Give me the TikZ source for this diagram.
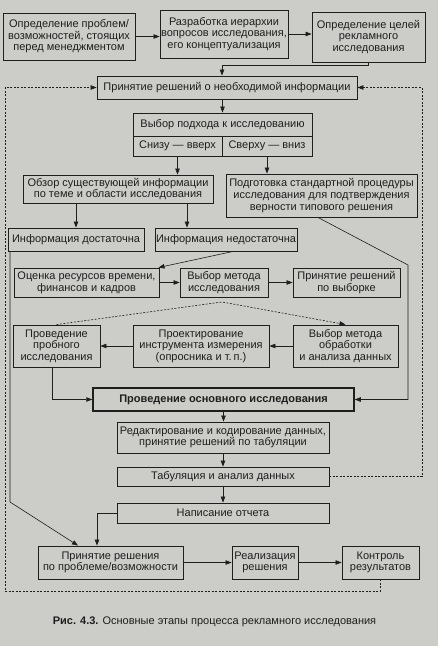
\documentclass[tikz,border=0pt]{standalone}
\usepackage{fontspec}
\setmainfont{Liberation Sans}
\usetikzlibrary{arrows.meta}
\definecolor{bg}{RGB}{204,204,200}
\definecolor{ink}{RGB}{30,30,30}
\newcommand\bx[7][]{\node[box,minimum width={#5pt-#3pt},minimum height={#6pt-#4pt},#1] (#2) at ({(#3+#5)/2},{(#4+#6)/2}) {#7};}
\begin{document}
\begin{tikzpicture}[x=1pt,y=-1pt,
  font=\fontsize{11}{11.6}\selectfont,
  box/.style={draw=ink,line width=0.9pt,fill=bg,text=ink,align=center,inner sep=1pt},
  conn/.style={draw=ink,line width=0.6pt},
  arr/.style={conn,-{Triangle[length=6pt,width=4.5pt]}},
  dsh/.style={arr,dash pattern=on 2pt off 1.5pt}]
\useasboundingbox[fill=bg] (0,0) rectangle (438,646);
\bx{b1}{3}{13}{135}{60}{Определение проблем/\\возможностей, стоящих\\перед менеджментом}
\bx{b2}{160}{10}{288}{58}{Разработка иерархии\\вопросов исследования,\\его концептуализация}
\bx{b3}{312}{12}{425}{62}{Определение целей\\рекламного\\исследования}
\bx{pr}{97}{76}{357}{99}{Принятие решений о необходимой информации}
\bx{vp}{133}{113}{312}{136}{Выбор подхода к исследованию}
\bx{sv}{133}{136}{222}{156}{Снизу — вверх}
\bx{sn}{222}{136}{312}{156}{Сверху — вниз}
\bx{obz}{23}{175}{213}{203}{Обзор существующей информации\\по теме и области исследования}
\bx{pod}{226}{174}{417}{217}{Подготовка стандартной процедуры\\исследования для подтверждения\\верности типового решения}
\bx{id}{8}{228}{144}{251}{Информация достаточна}
\bx{ind}{155}{228}{297}{251}{Информация недостаточна}
\bx{oc}{14}{268}{159}{297}{Оценка ресурсов времени,\\финансов и кадров}
\bx{vm}{180}{268}{268}{297}{Выбор метода\\исследования}
\bx{pv}{293}{268}{400}{297}{Принятие решений\\по выборке}
\bx{pp}{13}{325}{100}{367}{Проведение\\пробного\\исследования}
\bx{pi}{133}{325}{269}{367}{Проектирование\\инструмента измерения\\(опросника и т.\,п.)}
\bx{vo}{293}{325}{398}{367}{Выбор метода\\обработки\\и анализа данных}
\bx[line width=1.5pt,font=\fontsize{11}{11.6}\selectfont\bfseries]{po}{93}{388}{354}{411}{Проведение основного исследования}
\bx{red}{117}{422}{329}{453}{Редактирование и кодирование данных,\\принятие решений по табуляции}
\bx{tab}{117}{467}{329}{486}{Табуляция и анализ данных}
\bx{nap}{117}{503}{329}{523}{Написание отчета}
\bx{prr}{38}{546}{183}{579}{Принятие решения\\по проблеме/возможности}
\bx{rea}{232}{546}{298}{579}{Реализация\\решения}
\bx{kon}{342}{546}{419}{579}{Контроль\\результатов}
\node[text=ink] (cap) at (214.5,622) {\textbf{Рис. 4.3.} Основные этапы процесса рекламного исследования};
% coordinates
\coordinate (c1) at (222,65);
\coordinate (x187) at (187,0);
\coordinate (x233) at (233,0);
\coordinate (pk) at (222,302);
\coordinate (x52) at (52,0);
\coordinate (x318) at (318,0);
\coordinate (rb) at (408,265);
\coordinate (x97) at (97,0);
\coordinate (x10) at (10,0);
\coordinate (lb) at (10,502);
\coordinate (x78) at (78,0);
\coordinate (ld) at (5,591);
\coordinate (rd) at (422,476.5);
% connectors
\draw[arr] (b1.east) -- (b2.west |- b1.east);
\draw[arr] (b2.east) -- (b3.west |- b2.east);
\draw[arr] (b3.south) |- (c1) -- (c1 |- pr.north);
\draw[arr] (pr.south -| vp.north) -- (vp.north);
\draw[arr] (sv.south) -- (sv.south |- obz.north);
\draw[arr] (sn.south) -- (sn.south |- pod.north);
\draw[arr] (obz.south -| id.north) -- (id.north);
\draw[arr] (obz.south -| x187) -- (ind.north -| x187);
\draw[arr] (ind.south -| x233) -- ([xshift=-1pt]oc.north east);
\draw[arr] (oc.east) -- (vm.west);
\draw[arr] (vm.east) -- (pv.west);
\draw[dsh] (pp.north) -- (pk) -- (vo.north);
\draw[arr] (vo.west) -- (pi.east);
\draw[arr] (pi.west) -- (pp.east);
\draw[arr] (pp.south -| x52) |- (po.west);
\draw[arr] (pod.south -| x318) -- (rb) |- (po.east);
\draw[arr] (po.south) -- (po.south |- red.north);
\draw[arr] (red.south) -- (tab.north);
\draw[arr] (tab.south) -- (nap.north);
\draw[arr] (nap.west) -| (x97 |- prr.north);
\draw[arr] (id.south -| x10) -- (lb) -- (x78 |- prr.north);
\draw[arr] (prr.east) -- (rea.west);
\draw[arr] (rea.east) -- (kon.west);
\draw[dsh] (kon.south) |- (ld) |- (pr.west);
\draw[dsh] (tab.east) -- (rd) |- (pr.east);
\end{tikzpicture}
\end{document}
